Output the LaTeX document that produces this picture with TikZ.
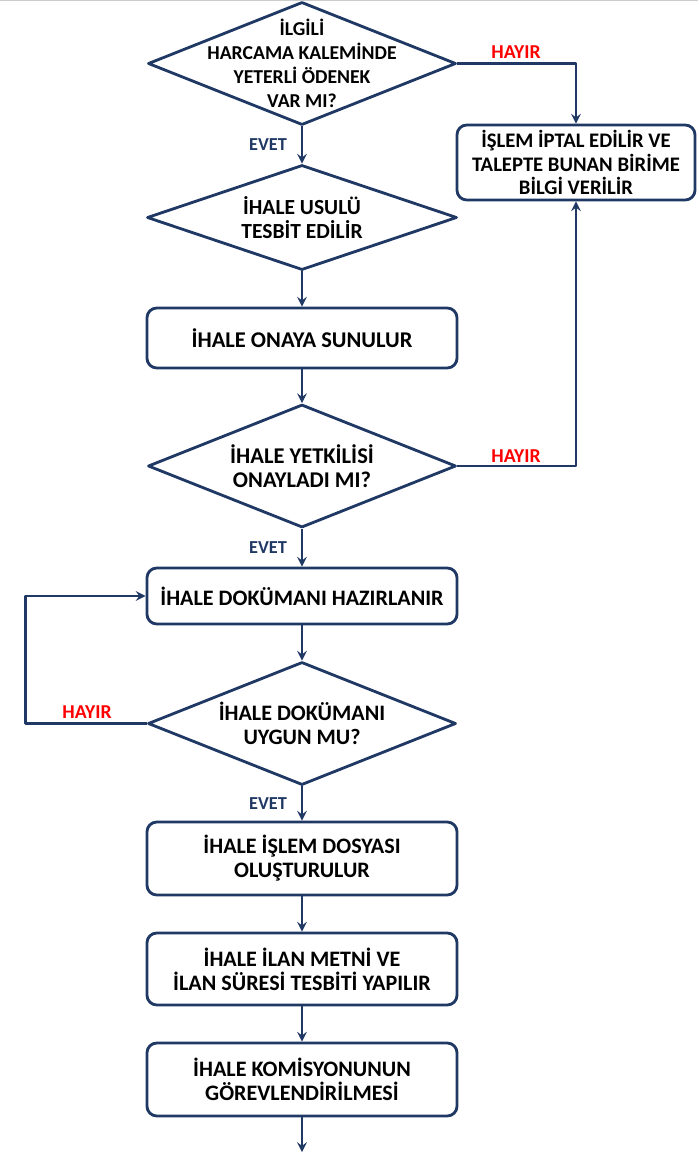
\documentclass[tikz,border=0pt]{standalone}
\usepackage{fontspec}
\setmainfont{Carlito}
\usetikzlibrary{shapes.geometric}
\definecolor{lacivert}{RGB}{31,56,100}
\definecolor{kirmizi}{RGB}{255,0,0}
\tikzset{
  karar/.style={diamond, draw=lacivert, line width=2pt, inner sep=0pt, minimum width=7.7cm},
  islem/.style={draw=lacivert, line width=2pt, rounded corners=7pt, minimum width=7.75cm},
  yazi/.style={align=center, font=\fontsize{15.7}{17}\selectfont\bfseries},
  evet/.style={text=lacivert, font=\fontsize{13}{15}\selectfont\bfseries},
  hayir/.style={text=kirmizi, font=\fontsize{14}{15}\selectfont\bfseries},
  ok/.style={draw=lacivert, line width=2pt, ->}
}
\begin{document}
\begin{tikzpicture}[x=0.025cm, y=-0.025cm, line join=round, >=stealth]
            \def\xm{302} % orta sutun
            \useasboundingbox (0,0) rectangle (698,1152);
            \draw[gray!40, line width=1pt] (0,0.5)--(698,0.5);
            % kararlar
            \node[karar, minimum height=3.075cm] (d1) at (\xm,63.5) {};
            \node[yazi, font=\fontsize{14}{17}\selectfont\bfseries] (d1t) at (d1) {İLGİLİ\\HARCAMA KALEMİNDE\\YETERLİ ÖDENEK\\VAR MI?};
            \node[karar, minimum height=2.625cm, minimum width=7.75cm] (d2) at (\xm,217.5) {};
            \node[yazi, font=\fontsize{15.3}{17}\selectfont\bfseries] (d2t) at (d2) {İHALE USULÜ\\TESBİT EDİLİR};
            \node[karar, minimum height=3.075cm] (d3) at (\xm,466) {};
            \node[yazi, font=\fontsize{16}{17.5}\selectfont\bfseries] (d3t) at (d3) {İHALE YETKİLİSİ\\ONAYLADI MI?};
            \node[karar, minimum height=3.075cm] (d4) at (\xm,723.5) {};
            \node[yazi] (d4t) at (d4) {İHALE DOKÜMANI\\UYGUN MU?};
            % islemler
            \node[islem, yazi, font=\fontsize{14.7}{17}\selectfont\bfseries, minimum width=5.95cm, minimum height=1.875cm] (iptal) at (576,162.5) {İŞLEM İPTAL EDİLİR VE\\TALEPTE BUNAN BİRİME\\BİLGİ VERİLİR};
            \node[islem, yazi, font=\fontsize{16}{17}\selectfont\bfseries, minimum height=1.5cm] (onay) at (\xm,338) {İHALE ONAYA SUNULUR};
            \node[islem, yazi, minimum height=1.4cm] (dokuman) at (\xm,596) {İHALE DOKÜMANI HAZIRLANIR};
            \node[islem, yazi, minimum height=1.825cm] (dosya) at (\xm,858.5) {İHALE İŞLEM DOSYASI\\OLUŞTURULUR};
            \node[islem, yazi, minimum height=1.8cm] (ilan) at (\xm,969) {İHALE İLAN METNİ VE\\İLAN SÜRESİ TESBİTİ YAPILIR};
            \node[islem, yazi, minimum height=1.825cm] (komisyon) at (\xm,1079.5) {İHALE KOMİSYONUNUN\\GÖREVLENDİRİLMESİ};
            \coordinate (son) at (\xm,1152);
            % oklar
            \draw[ok] (d1.south)--(d2.north);
            \draw[ok] (d1.east)-|(iptal.north);
            \draw[ok] (d2.south)--(onay.north);
            \draw[ok] (onay.south)--(d3.north);
            \draw[ok] (d3.east)-|(iptal.south);
            \draw[ok] (d3.south)--(dokuman.north);
            \draw[ok] (dokuman.south)--(d4.north);
            \draw[ok] (d4.west)--++(-121,0)|-(dokuman.west);
            \draw[ok] (d4.south)--(dosya.north);
            \draw[ok] (dosya.south)--(ilan.north);
            \draw[ok] (ilan.south)--(komisyon.north);
            \draw[ok] (komisyon.south)--(son);
            % etiketler
            \node[evet] (e1) at (268,145) {EVET};
            \node[evet] (e2) at (268,548) {EVET};
            \node[evet] (e3) at (268,804) {EVET};
            \node[hayir] (h1) at (516,52) {HAYIR};
            \node[hayir] (h2) at (516,456) {HAYIR};
            \node[hayir] (h3) at (87,712) {HAYIR};
        \end{tikzpicture}
\end{document}
